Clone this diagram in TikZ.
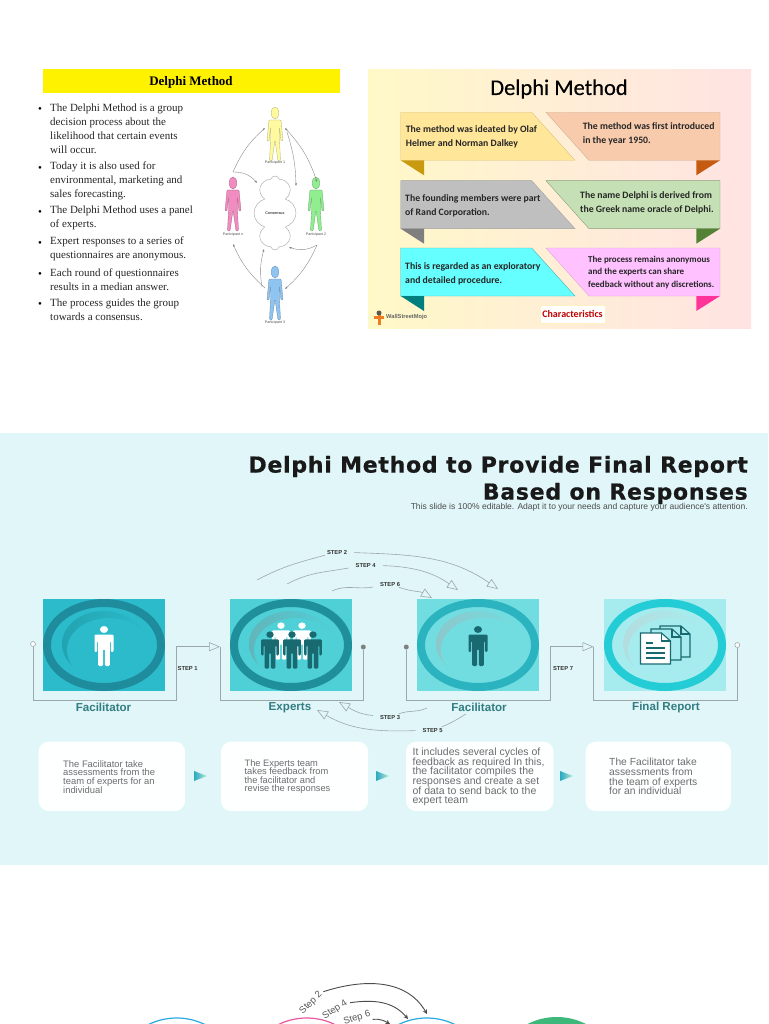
\documentclass[tikz,border=0pt]{standalone}
\usepackage{fontspec}
\usepackage{xcolor}
\usetikzlibrary{arrows.meta, math, shapes.symbols}
\newfontfamily\timesfont{Liberation Serif}
\newfontfamily\carlitofont{Carlito}
\newfontfamily\arialfont{Liberation Sans}
\newfontfamily\dejavufont{DejaVu Sans}
\definecolor{slidebg}{RGB}{225,246,248}
\definecolor{linegray}{RGB}{155,168,170}
\definecolor{teallabel}{RGB}{50,125,130}
\definecolor{manteal}{RGB}{24,106,112}
\definecolor{cardtext}{RGB}{105,110,112}
\definecolor{panelA}{HTML}{2BBBCB}
\definecolor{ringA}{HTML}{1E8C9C}
\definecolor{cresA}{HTML}{22A3B1}
\definecolor{panelB}{HTML}{4FCFD6}
\definecolor{ringB}{HTML}{1F8F9B}
\definecolor{cresB}{HTML}{62B5BA}
\definecolor{panelC}{HTML}{72DDE0}
\definecolor{ringC}{HTML}{2BB4C0}
\definecolor{cresC}{HTML}{8CC8CB}
\definecolor{panelD}{HTML}{A6ECEE}
\definecolor{ringD}{HTML}{24CDD6}
\definecolor{cresD}{HTML}{B4DDDF}
\definecolor{sandA}{HTML}{FFE699}
\definecolor{sandB}{HTML}{C99A10}
\definecolor{peachA}{HTML}{F8CBAD}
\definecolor{peachB}{HTML}{C55A11}
\definecolor{greyA}{HTML}{BFBFBF}
\definecolor{greyB}{HTML}{7F7F7F}
\definecolor{leafA}{HTML}{C5E0B4}
\definecolor{leafB}{HTML}{548235}
\definecolor{aquaA}{HTML}{66FFFF}
\definecolor{aquaB}{HTML}{007F7F}
\definecolor{pinkA}{HTML}{FFC1FF}
\definecolor{pinkB}{HTML}{FF3399}
\definecolor{partYellow}{HTML}{FFFAA0}
\definecolor{partPink}{HTML}{F08CC0}
\definecolor{partGreen}{HTML}{90EE90}
\definecolor{partBlue}{HTML}{90C4F0}
\definecolor{ringBlue}{HTML}{29ABE2}
\definecolor{ringPink}{HTML}{E85AA0}
\definecolor{ballGreen}{HTML}{3DB87A}
\definecolor{logoOrange}{HTML}{EF7B22}
\definecolor{flagDark}{HTML}{2AA9C0}
\definecolor{flagLight}{HTML}{B5E8D8}
\tikzset{
  banner/.style={font=\fontsize{9.75}{14}\selectfont\carlitofont\bfseries, text=black!85, align=left, anchor=west, inner sep=0},
  bulletmark/.style={font=\fontsize{11}{14}\selectfont\timesfont, inner sep=0},
  bullettext/.style={font=\fontsize{11}{14}\selectfont\timesfont, text=black!85, align=left, anchor=west, inner sep=0},
  partlabel/.style={font=\fontsize{3.6}{4}\selectfont\arialfont, text=black!70, inner sep=0},
  partarrow/.style={-{Latex[length=2.5,width=2]}, line width=0.35, draw=black!50},
  badgelabel/.style={font=\fontsize{11.6}{13}\selectfont\arialfont\bfseries, text=teallabel, inner sep=0},
  stepnode/.style={font=\fontsize{5.8}{7}\selectfont\arialfont\bfseries, text=black!80, inner xsep=7, inner ysep=1},
  bracket/.style={line width=0.6, draw=linegray},
  bigtip/.style={bracket, -{Triangle[open,length=11,width=9]}},
  opendot/.style={circle, draw=linegray, fill=white, line width=0.6, minimum size=5, inner sep=0},
  graydot/.style={circle, fill=black!50, minimum size=5, inner sep=0},
  cardbox/.style={fill=white!97!slidebg, rounded corners=10},
  cardtxt/.style={text=cardtext, align=left, anchor=west, inner sep=0, execute at begin node={\lineskiplimit=-5pt}},
  lowstep/.style={font=\fontsize{9.5}{11}\selectfont\arialfont, text=black!65, inner sep=0},
  darktip/.style={-{Stealth[length=4.5,width=4.5]}, line width=0.9, draw=black!70},
  man/.pic={
    \path[pic actions] (0,-16.5) ellipse [x radius=4, y radius=3.5];
    \path[pic actions, rounded corners=1.2] (-9.5,-11.5) -- (9.5,-11.5) -- (9.5,6) -- (6.8,6) -- (6.8,-5) -- (5.8,-5) -- (5.8,20) -- (0.9,20) -- (0.9,3) -- (-0.9,3) -- (-0.9,20) -- (-5.8,20) -- (-5.8,-5) -- (-6.8,-5) -- (-6.8,6) -- (-9.5,6) -- cycle;
  },
  participant/.pic={
    \path[pic actions] (0,6) ellipse [x radius=3.8, y radius=6];
    \path[pic actions, rounded corners=1] (-6,13) -- (6,13) -- (8,34) -- (6,34) -- (4.5,20) -- (4.5,34) -- (5.5,54) -- (3,54) -- (0,33) -- (-3,54) -- (-5.5,54) -- (-4.5,34) -- (-4.5,20) -- (-6,34) -- (-8,34) -- cycle;
  },
  docsheet/.pic={
    \path[pic actions] (0,0) -- (21,0) -- (30,8) -- (30,31) -- (0,31) -- cycle;
    \path[pic actions, fill=none] (21,0) -- (21,8) -- (30,8);
  }
}
% ring picture of one step: centre, panel, ring, crescent
\newcommand{\badge}[4]{
  \fill[#2] (#1-61,599) rectangle (#1+61,691);
  \shade[left color=#4, right color=#2] (#1,644) ellipse [x radius=42, y radius=33];
  \fill[#2] (#1+5,650) ellipse [x radius=42, y radius=32];
  \draw[#3, line width=8] (#1,645) ellipse [x radius=57, y radius=42];
}
\begin{document}
\begin{tikzpicture}[x=1pt,y=-1pt]
\tikzmath{
\rowA=112.3;
\rowB=180.7;
\rowC=248;
\bh=48;
\drop=15;
\leftX=400.7;
\leftMid=531.7;
\leftEnd=575;
\tailL=424;
\rightX=546;
\rightMid=589;
\rightEnd=720;
\tailR=696.3;
}
\clip (0,0) rectangle (768,1024);
\fill[white] (0,0) rectangle (768,1024);

%left panel
\fill[yellow] (43,69) rectangle (340,93);
\node[font=\fontsize{13}{15}\selectfont\timesfont\bfseries, inner sep=0] (leftTitle) at (191,82) {Delphi Method};

\node[bulletmark] (dotA) at (40,110) {\textbullet};
\node[bulletmark] (dotB) at (40,169) {\textbullet};
\node[bulletmark] (dotC) at (40,213) {\textbullet};
\node[bulletmark] (dotD) at (40,244) {\textbullet};
\node[bulletmark] (dotE) at (40,275) {\textbullet};
\node[bulletmark] (dotF) at (40,305) {\textbullet};
\node[bullettext] (itemA) at (50,129) {The Delphi Method is a group\\decision process about the\\likelihood that certain events\\will occur.};
\node[bullettext] (itemB) at (50,180.5) {Today it is also used for\\environmental, marketing and\\sales forecasting.};
\node[bullettext] (itemC) at (50,218) {The Delphi Method uses a panel\\of experts.};
\node[bullettext] (itemD) at (50,249) {Expert responses to a series of\\questionnaires are anonymous.};
\node[bullettext] (itemE) at (50,280) {Each round of questionnaires\\results in a median answer.};
\node[bullettext] (itemF) at (50,310) {The process guides the group\\towards a consensus.};

%participants
\pic[fill=partYellow, draw=partYellow!70!black, line width=0.3] at (275,107) {participant};
\pic[fill=partPink, draw=partPink!70!black, line width=0.3] at (233,177) {participant};
\pic[fill=partGreen, draw=partGreen!70!black, line width=0.3] at (316,177) {participant};
\pic[fill=partBlue, draw=partBlue!70!black, line width=0.3] at (275,266) {participant};
\node[partlabel] (labA) at (275,163) {Participant 1};
\node[partlabel] (labB) at (233,235) {Participant n};
\node[partlabel] (labC) at (316,235) {Participant 2};
\node[partlabel] (labD) at (275,323) {Participant 3};
\node[cloud, cloud puffs=8, cloud ignores aspect, draw=black!40, line width=0.35, minimum width=42, minimum height=74, inner sep=0, font=\fontsize{3.8}{4}\selectfont\arialfont] (consensus) at (275,213) {Consensus};

\coordinate (yelL) at (265,128);
\coordinate (yelR) at (285,128);
\coordinate (yelD) at (287,132);
\coordinate (cloA) at (296,186);
\coordinate (cloB) at (257,183);
\coordinate (cloC) at (289,247);
\coordinate (cloD) at (264,249);
\coordinate (pnkT) at (233,172);
\coordinate (pnkB) at (233,244);
\coordinate (grnT) at (317,182);
\coordinate (grnB) at (317,245);
\coordinate (bluL) at (265,288);
\coordinate (bluR) at (285,289);
\coordinate (bluC) at (262,287);
\draw[partarrow,{Latex[length=2.5,width=2]}-{Latex[length=2.5,width=2]}] (yelR) to[bend left=12] (grnT);
\draw[partarrow] (yelD) to[bend left=8] (cloA);
\draw[partarrow] (pnkT) to[bend left=12] (yelL);
\draw[partarrow] (pnkT) to[bend left=25] (cloB);
\draw[partarrow] (grnB) to[bend left=12] (bluR);
\draw[partarrow] (grnB) to[bend left=25] (cloC);
\draw[partarrow] (bluL) to[bend left=12] (pnkB);
\draw[partarrow] (bluC) to[bend left=12] (cloD);

%right panel
\shade[left color={rgb,255:red,255;green,249;blue,200}, middle color={rgb,255:red,244;green,243;blue,232}, right color={rgb,255:red,255;green,227;blue,227}] (368,70) rectangle (751,328);
\node[font=\fontsize{22.5}{26}\selectfont\carlitofont\addfontfeature{FakeBold=0.3}, inner sep=0] (rightTitle) at (559,89) {Delphi Method};

\fill[sandA, draw=sandA!85!black, line width=0.4] (\leftX,\rowA) -- (\leftMid,\rowA) -- (\leftEnd,\rowA+\bh) -- (\leftX,\rowA+\bh) -- cycle;
\fill[sandB] (\leftX,\rowA+\bh) -- (\tailL,\rowA+\bh) -- (\tailL,\rowA+\bh+\drop) -- cycle;
\fill[peachA, draw=peachA!85!black, line width=0.4] (\rightX,\rowA) -- (\rightEnd,\rowA) -- (\rightEnd,\rowA+\bh) -- (\rightMid,\rowA+\bh) -- cycle;
\fill[peachB] (\rightEnd,\rowA+\bh) -- (\tailR,\rowA+\bh) -- (\tailR,\rowA+\bh+\drop) -- cycle;

\fill[greyA, draw=greyA!85!black, line width=0.4] (\leftX,\rowB) -- (\leftMid,\rowB) -- (\leftEnd,\rowB+\bh) -- (\leftX,\rowB+\bh) -- cycle;
\fill[greyB] (\leftX,\rowB+\bh) -- (\tailL,\rowB+\bh) -- (\tailL,\rowB+\bh+\drop) -- cycle;
\fill[leafA, draw=leafA!70!black, line width=0.4] (\rightX,\rowB) -- (\rightEnd,\rowB) -- (\rightEnd,\rowB+\bh) -- (\rightMid,\rowB+\bh) -- cycle;
\fill[leafB] (\rightEnd,\rowB+\bh) -- (\tailR,\rowB+\bh) -- (\tailR,\rowB+\bh+\drop) -- cycle;

\fill[aquaA, draw=aquaA!70!black, line width=0.4] (\leftX,\rowC) -- (\leftMid,\rowC) -- (\leftEnd,\rowC+\bh) -- (\leftX,\rowC+\bh) -- cycle;
\fill[aquaB] (\leftX,\rowC+\bh) -- (\tailL,\rowC+\bh) -- (\tailL,\rowC+\bh+\drop) -- cycle;
\fill[pinkA, draw=pinkA!85!black, line width=0.4] (\rightX,\rowC) -- (\rightEnd,\rowC) -- (\rightEnd,\rowC+\bh) -- (\rightMid,\rowC+\bh) -- cycle;
\fill[pinkB] (\rightEnd,\rowC+\bh) -- (\tailR,\rowC+\bh) -- (\tailR,\rowC+\bh+\drop) -- cycle;

\node[banner] (noteA) at (405.7,137) {The method was ideated by Olaf\\Helmer and Norman Dalkey};
\node[banner] (noteB) at (582.7,134) {The method was first introduced\\in the year 1950.};
\node[banner] (noteC) at (405,206) {The founding members were part\\of Rand Corporation.};
\node[banner] (noteD) at (580,203) {The name Delphi is  derived from\\the Greek name oracle of Delphi.};
\node[banner] (noteE) at (405,274) {This is regarded as an exploratory\\and detailed procedure.};
\node[banner, font=\fontsize{9}{12.5}\selectfont\carlitofont\bfseries] (noteF) at (588,272.5) {The process remains anonymous\\and the experts can share\\feedback without any discretions.};

\node[draw=sandA!60, fill=white, line width=0.6, minimum width=65, minimum height=18, inner sep=0, text=red!75!black, font=\fontsize{10}{12}\selectfont\carlitofont\bfseries] (charBox) at (572.5,314) {Characteristics};

%logo
\fill[logoOrange] (374,315.5) rectangle (384,318.5);
\fill[logoOrange] (377.5,314) rectangle (380.5,325);
\fill[black!65] (379,313) ellipse [x radius=2.5, y radius=2.5];
\node[font=\fontsize{5.7}{6}\selectfont\arialfont\bfseries, text=black!60, anchor=west, inner sep=0] (logoText) at (386,317) {WallStreetMojo};

%slide
\fill[slidebg] (0,433) rectangle (768,865);
\node[font=\fontsize{22}{27}\selectfont\dejavufont\bfseries\addfontfeature{LetterSpace=3.3,FakeBold=0.6}, text=black!90, align=right, anchor=east, inner sep=0] (slideTitle) at (748,480) {Delphi Method to Provide Final Report\\Based on Responses};
\node[font=\fontsize{8.55}{9}\selectfont\arialfont, text=black!70, anchor=east, inner sep=0] (slideSub) at (748,507) {This slide is 100\% editable.  Adapt it to your needs and capture your audience's attention.};

\badge{104}{panelA}{ringA}{cresA}
\badge{291}{panelB}{ringB}{cresB}
\badge{478}{panelC}{ringC}{cresC}
\badge{665}{panelD}{ringD}{cresD}

\pic[fill=white] at (104,646) {man};
\pic[fill=white, scale=0.93] at (281,641) {man};
\pic[fill=white, scale=0.93] at (302,641) {man};
\pic[fill=manteal, scale=0.93] at (270,650) {man};
\pic[fill=manteal, scale=0.93] at (292,650) {man};
\pic[fill=manteal, scale=0.93] at (313,650) {man};
\pic[fill=manteal] at (478,646) {man};

\pic[fill=panelD, draw=manteal, line width=1.1] at (660,626) {docsheet};
\pic[fill=panelD, draw=manteal, line width=1.1] at (651,629) {docsheet};
\pic[fill=white, draw=manteal, line width=1.1] at (640.5,633) {docsheet};
\draw[manteal, line width=1.1] (646,643) -- (653,643);
\draw[manteal, line width=1.1] (646,648) -- (665,648);
\draw[manteal, line width=1.1] (646,653) -- (665,653);
\draw[manteal, line width=1.1] (646,658) -- (665,658);

\node[badgelabel] (facA) at (103.5,707.7) {Facilitator};
\node[badgelabel] (expert) at (290,707.7) {Experts};
\node[badgelabel] (facB) at (479,707.7) {Facilitator};
\node[badgelabel] (report) at (666,707.7) {Final Report};

%brackets
\node[opendot] (dotFacA) at (33,644) {};
\node[graydot] (dotExpert) at (363.3,647) {};
\node[graydot] (dotFacB) at (406.3,647) {};
\node[opendot] (dotReport) at (737.3,645) {};
\coordinate (lowA) at (176.7,700.7);
\coordinate (tipA) at (220,646.7);
\coordinate (lowB) at (406.3,700.7);
\coordinate (lowC) at (550,700.7);
\coordinate (tipC) at (593.5,646.7);
\draw[bracket] (dotFacA) |- (lowA);
\draw[bigtip] (lowA) |- (tipA);
\draw[bracket] (tipA) |- (dotExpert |- lowA) -- (dotExpert);
\draw[bracket] (dotFacB) -- (lowB) -- (lowC);
\draw[bigtip] (lowC) |- (tipC);
\draw[bracket] (tipC) |- (dotReport |- lowC) -- (dotReport);
\node[stepnode, fill=slidebg, inner xsep=1] (stepA) at (187.7,668) {STEP 1};
\node[stepnode, fill=slidebg, inner xsep=1] (stepG) at (563,668) {STEP 7};

%steps above
\node[stepnode] (stepB) at (337,552) {STEP 2};
\node[stepnode] (stepD) at (365.7,565) {STEP 4};
\node[stepnode] (stepF) at (390,584) {STEP 6};
\coordinate (tailB) at (257,580);
\coordinate (tailD) at (287,584);
\coordinate (tailF) at (332,591);
\coordinate (headB) at (498,589);
\coordinate (headD) at (458,590);
\coordinate (headF) at (432,598);
\draw[bracket] (tailB) to[out=28,in=195] (stepB);
\draw[bigtip] (stepB) to[out=-2,in=145] (headB);
\draw[bracket] (tailD) to[out=28,in=190] (stepD);
\draw[bigtip] (stepD) to[out=-2,in=145] (headD);
\draw[bracket] (tailF) to[out=25,in=190] (stepF);
\draw[bigtip] (stepF) to[out=-20,in=150] (headF);

%steps below
\node[stepnode] (stepC) at (390,717) {STEP 3};
\node[stepnode] (stepE) at (432.7,730) {STEP 5};
\coordinate (headC) at (339,702);
\coordinate (headE) at (317,710);
\coordinate (tailC) at (427,708);
\coordinate (tailE) at (466,714);
\draw[bigtip] (stepC) to[out=175,in=-30] (headC);
\draw[bracket] (tailC) to[out=205,in=20] (stepC);
\draw[bigtip] (stepE) to[out=182,in=-30] (headE);
\draw[bracket] (tailE) to[out=210,in=20] (stepE);

%text cards
\fill[cardbox] (38.6,741.7) rectangle (185,811);
\fill[cardbox] (221,741.7) rectangle (368,811);
\fill[cardbox] (406,741.7) rectangle (553.5,811);
\fill[cardbox] (585.6,741.7) rectangle (731,811);
\node[cardtxt, font=\fontsize{9.4}{8.7}\selectfont\arialfont] (cardA) at (63,776.7) {The Facilitator take\\assessments from the\\team of experts for an\\individual};
\node[cardtxt, font=\fontsize{9.3}{8.5}\selectfont\arialfont] (cardB) at (244.4,776.5) {The Experts team\\takes feedback from\\the facilitator and\\revise the responses};
\node[cardtxt, font=\fontsize{10.5}{9.7}\selectfont\arialfont] (cardC) at (412.4,777) {It includes several cycles of\\feedback as required In this,\\the facilitator compiles the\\responses and create a set\\of data to send back to the\\expert team};
\node[cardtxt, font=\fontsize{10.3}{9.7}\selectfont\arialfont] (cardD) at (609,776.5) {The Facilitator take\\assessments from\\the team of experts\\for an individual};

\shade[left color=flagDark, right color=flagLight] (194,771) -- (207,776) -- (194,781) -- cycle;
\shade[left color=flagDark, right color=flagLight] (376,771) -- (389,776) -- (376,781) -- cycle;
\shade[left color=flagDark, right color=flagLight] (560,771) -- (573,776) -- (560,781) -- cycle;

%bottom figure
\draw[ringBlue, line width=1.2] (176.7,1082) circle (64);
\draw[ringPink, line width=1.2] (306.7,1082) circle (64);
\draw[ringBlue, line width=1.2] (426.7,1082) circle (64);
\fill[ballGreen] (556.7,1081) circle (64);
\node[lowstep, rotate=45] (lowStepB) at (311,1003) {Step 2};
\node[lowstep, rotate=33] (lowStepD) at (335,1010) {Step 4};
\node[lowstep, rotate=17] (lowStepF) at (357,1018) {Step 6};
\coordinate (lowTailB) at (323.3,991.7);
\coordinate (lowTailD) at (350,1002.7);
\coordinate (lowTailF) at (372.7,1019.3);
\coordinate (lowHeadB) at (427,1014);
\coordinate (lowHeadD) at (408,1019);
\coordinate (lowHeadF) at (390,1024);
\draw[darktip] (lowTailB) to[out=18,in=120] (lowHeadB);
\draw[darktip] (lowTailD) to[out=8,in=130] (lowHeadD);
\draw[darktip] (lowTailF) to[out=5,in=150] (lowHeadF);
\end{tikzpicture}
\end{document}
